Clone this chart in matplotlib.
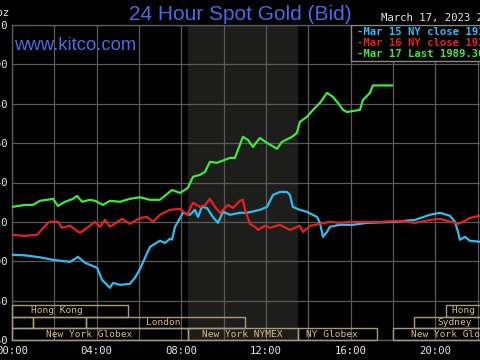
import matplotlib
matplotlib.use("Agg")
import matplotlib.pyplot as plt
from matplotlib.patches import Rectangle
import matplotlib.transforms as mtransforms

# ---------------- data ----------------
mar15_h = [0, 0.61, 1.32, 1.94, 2.74, 3.12, 3.45, 4.02, 4.25, 4.63, 4.77, 5.10, 5.57, 5.81,
           6.05, 6.28, 6.52, 6.99, 7.23, 7.46, 7.56, 7.70, 8.08, 8.41, 8.64, 8.79, 8.97, 9.21,
           9.49, 9.73, 9.97, 10.30, 10.77, 11.10, 11.71, 12.05, 12.33, 12.66, 12.99, 13.13,
           13.27, 13.60, 13.93, 14.41, 14.55, 14.69, 14.88, 15.02, 15.49, 16.11, 16.77, 18.00,
           19.04, 19.74, 20.22, 20.69, 20.93, 21.07, 21.16, 21.40, 21.63, 22.11, 22.60]
mar15_p = [1903.3, 1903.0, 1902.0, 1900.7, 1899.7, 1902.2, 1899.2, 1896.7, 1890.6, 1886.5,
           1889.0, 1888.0, 1888.5, 1891.6, 1896.1, 1901.7, 1907.3, 1910.4, 1909.3, 1911.4,
           1911.0, 1917.5, 1924.6, 1923.6, 1926.1, 1922.5, 1927.6, 1927.1, 1922.5, 1919.5,
           1925.1, 1923.6, 1924.6, 1924.6, 1926.1, 1927.6, 1933.7, 1935.2, 1935.2, 1933.7,
           1927.6, 1926.1, 1925.1, 1922.5, 1919.5, 1912.4, 1914.9, 1917.5, 1918.5, 1918.5,
           1919.5, 1920.0, 1921.0, 1923.6, 1924.6, 1923.1, 1920.0, 1915.0, 1910.9, 1912.4,
           1910.4, 1909.9, 1910.0]

mar16_h = [0, 0.60, 1.18, 1.70, 1.80, 2.17, 2.36, 2.74, 3.21, 3.68, 3.92, 4.16, 4.39, 4.63,
           5.20, 5.57, 6.05, 6.38, 6.66, 6.99, 7.46, 7.94, 8.27, 8.55, 8.88, 9.12, 9.35, 9.59,
           9.83, 10.20, 10.44, 10.77, 10.91, 11.01, 11.24, 11.48, 11.62, 11.95, 12.19, 12.66,
           13.13, 13.60, 13.75, 14.08, 14.55, 15.02, 15.49, 15.97, 16.44, 17.38, 18.33, 19.04,
           19.74, 20.22, 20.93, 21.07, 21.40, 21.63, 22.11, 22.60]
mar16_p = [1913.4, 1912.9, 1913.4, 1919.5, 1920.0, 1920.0, 1917.0, 1918.0, 1914.4, 1918.0,
           1920.0, 1917.5, 1921.0, 1917.5, 1921.5, 1919.0, 1922.0, 1922.5, 1920.0, 1923.6,
           1926.1, 1926.6, 1923.6, 1929.7, 1927.6, 1928.6, 1931.7, 1927.6, 1924.6, 1928.6,
           1927.1, 1930.7, 1931.2, 1926.1, 1919.0, 1917.5, 1915.9, 1918.0, 1917.0, 1918.5,
           1915.9, 1918.0, 1914.9, 1918.0, 1919.0, 1920.0, 1919.5, 1920.0, 1920.0, 1920.0,
           1920.5, 1919.5, 1921.0, 1921.5, 1919.5, 1919.0, 1920.5, 1922.0, 1923.1, 1923.5]

mar17_h = [0, 0.61, 0.99, 1.32, 1.65, 1.94, 2.17, 2.50, 2.88, 3.07, 3.31, 3.68, 3.92, 4.30,
           4.63, 5.10, 5.57, 6.05, 6.52, 6.99, 7.56, 7.94, 8.31, 8.55, 8.88, 9.12, 9.35, 9.68,
           10.30, 10.53, 10.91, 11.15, 11.38, 11.71, 12.05, 12.52, 12.75, 13.23, 13.46, 13.60,
           13.93, 14.22, 14.55, 14.88, 15.16, 15.40, 15.64, 15.82, 16.44, 16.58, 16.91, 17.05,
           17.95]
mar17_p = [1927.6, 1928.6, 1928.6, 1930.7, 1931.2, 1931.7, 1928.1, 1930.2, 1931.7, 1933.2,
           1930.2, 1931.2, 1930.7, 1928.6, 1930.7, 1930.2, 1931.7, 1932.5, 1931.2, 1931.2,
           1936.2, 1934.7, 1937.3, 1942.9, 1943.9, 1945.4, 1950.5, 1950.0, 1952.5, 1952.5,
           1963.2, 1961.6, 1958.1, 1962.6, 1960.1, 1957.1, 1960.6, 1963.2, 1965.2, 1970.8,
           1973.3, 1976.9, 1980.4, 1985.5, 1983.5, 1980.4, 1976.9, 1975.8, 1976.9, 1981.9,
           1985.5, 1989.3, 1989.3]

legend_labels = ["Mar 15 NY close 1918.70", "Mar 16 NY close 1921.80", "Mar 17 Last 1989.30"]

y_ticks = [1860, 1880, 1900, 1920, 1940, 1960, 1980, 2000, 2020]
x_tick_hours = [0, 4, 8, 12, 16, 20, 24]
x_tick_labels = ["00:00", "04:00", "08:00", "12:00", "16:00", "20:00", "24:00"]

nymex_start, nymex_end = 8.33, 13.5

# sessions: (start hour, end hour, row, label, label hour)  rows: 0 = NY, 1 = London, 2 = Hong Kong
sess_start = [0, 20.5, 0, 1.0, 3.5, 19.0, 0, 8.33, 13.5, 18.0]
sess_end = [5.5, 24, 1.0, 3.5, 11.0, 24, 8.33, 13.5, 17.25, 24]
sess_row = [2, 2, 1, 1, 1, 1, 0, 0, 0, 0]
sess_label = ["Hong Kong", "Hong Kong", "", "", "London", "Sydney",
              "New York Globex", "New York NYMEX", "NY Globex", "New York Globex"]
sess_label_h = [2.13, 22.0, 0, 0, 7.13, 20.9, 3.64, 10.86, 15.1, 20.9]

# ---------------- style ----------------
W, H = 480, 360
BG = "black"
GRID = "#5a5a5a"
TXT = "#e8e8e8"
SESS_TXT = "#d9bf84"
SESS_EDGE = "#a89c74"
BLUE = "#33bbee"
RED = "#e52222"
GREEN = "#3ee83e"
TITLE_C = "#4a6ae8"
MONO = "DejaVu Sans Mono"

fig = plt.figure(figsize=(W / 100, H / 100), dpi=100, facecolor=BG)
ax_l, ax_r, ax_t, ax_b = 12, 520, 25, 340
ax = fig.add_axes([ax_l / W, 1 - ax_b / H, (ax_r - ax_l) / W, (ax_b - ax_t) / H])
ax.set_facecolor(BG)
ax.set_xlim(0, 24)
ax.set_ylim(1860, 2020)

ax.axvspan(nymex_start, nymex_end, color="#1d1d1b", zorder=0, lw=0)

ax.set_xticks(range(0, 25, 2), minor=False)
ax.set_xticklabels([x_tick_labels[x_tick_hours.index(h)] if h in x_tick_hours else ""
                    for h in range(0, 25, 2)])
ax.set_yticks(y_ticks)
ax.set_yticklabels([str(v) for v in y_ticks])
ax.grid(True, color=GRID, lw=0.9, zorder=1)
ax.tick_params(length=0, colors=TXT, labelsize=7.7)
ax.tick_params(axis="x", pad=4)
ax.tick_params(axis="y", pad=3)
for lab in ax.get_xticklabels() + ax.get_yticklabels():
    lab.set_family(MONO)
for s in ax.spines.values():
    s.set_color(GRID)
    s.set_linewidth(1.0)

ax.plot(mar15_h, mar15_p, color=BLUE, lw=1.6, zorder=3)
ax.plot(mar16_h, mar16_p, color=RED, lw=1.6, zorder=3)
ax.plot(mar17_h, mar17_p, color=GREEN, lw=1.6, zorder=4)

# session boxes
trans = mtransforms.blended_transform_factory(ax.transData, ax.transAxes)
row_h = 11.7 / (ax_b - ax_t)
for s, e, r, lab, lh in zip(sess_start, sess_end, sess_row, sess_label, sess_label_h):
    ax.add_patch(Rectangle((s, r * row_h), e - s, row_h, transform=trans, fill=False,
                           edgecolor=SESS_EDGE, lw=1.0, zorder=5, clip_on=False))
    if lab:
        ax.text(lh, (r + 0.5) * row_h, lab, transform=trans, ha="center",
                va="center", color=SESS_TXT, fontsize=6.8, family=MONO, zorder=6)

# legend box
leg_x0 = (351 - ax_l) / (ax_r - ax_l)
leg_h = 36 / (ax_b - ax_t)
ax.add_patch(Rectangle((leg_x0, 1 - leg_h), 1 - leg_x0, leg_h, transform=ax.transAxes,
                       facecolor=BG, edgecolor="#8a8a8a", lw=1.0, zorder=7))
for i, (lab, c) in enumerate(zip(legend_labels, [BLUE, RED, GREEN])):
    ypix = 32 + i * 11
    fig.text(357 / W, 1 - ypix / H, "-" + lab, color=c, fontsize=7.7, family=MONO,
             fontweight="bold", ha="left", va="center", zorder=8)

# header texts
fig.text(240 / W, 1 - 14 / H, "24 Hour Spot Gold (Bid)", color=TITLE_C, fontsize=15,
         family="Liberation Sans", ha="center", va="center")
fig.text(14 / W, 1 - 45 / H, "www.kitco.com", color=TITLE_C, fontsize=13.3,
         family="Liberation Sans", ha="left", va="center", zorder=8)
fig.text(381 / W, 1 - 18 / H, "March 17, 2023 21:35 NY Time", color=TXT, fontsize=7.7,
         family=MONO, ha="left", va="center")
fig.text(9 / W, 1 - 13 / H, "USD/oz", color=TXT, fontsize=7.7, family=MONO,
         ha="right", va="center")

fig.savefig("out.png", dpi=100, facecolor=BG)
